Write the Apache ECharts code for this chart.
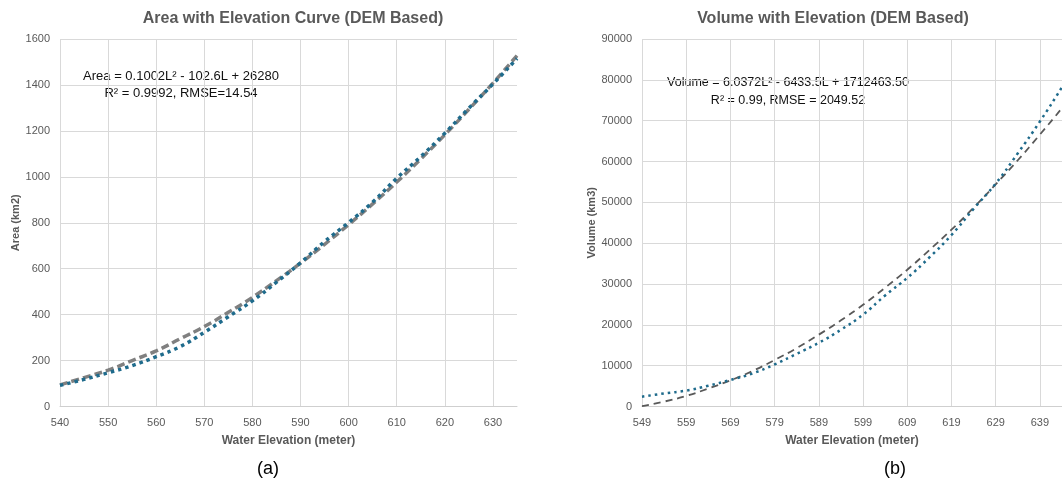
<!DOCTYPE html>
<html>
<head>
<meta charset="utf-8">
<script src="https://cdn.jsdelivr.net/npm/echarts@6/dist/echarts.min.js"></script>
<style>
html,body{margin:0;padding:0;background:#fff;}
#c{width:1062px;height:481px;}
</style>
</head>
<body>
<div id="c"></div>
<script>
// ---- Data ----
const areaElev = [540,545,550,555,560,565,570,575,580,585,590,595,600,605,610,615,620,625,630,635];
const areaObserved = [92,118,147,178,217,261,323,391,460,541,626,718,801,890,994,1088,1190,1299,1404,1515];
const areaFitted = [94,126,158,200,242,295,348,410,475,548,624,706,792,882,977,1078,1183,1294,1408,1528];
const areaXTicks = [540,550,560,570,580,590,600,610,620,630];

const volElev = [549,554,559,564,569,574,579,584,589,594,599,604,609,614,619,624,629,634,639,644,649];
const volObserved = [2400,3200,3900,5100,6500,8100,10300,12900,15600,18800,22500,27200,31500,36500,42000,48400,54600,62000,69800,78200,87000];
const volFitted = [100,1200,2600,4400,6400,8700,11400,14300,17600,21100,24900,29100,33500,38300,43300,48700,54400,60300,66600,73100,80000];
const volXTicks = [549,559,569,579,589,599,609,619,629,639];

const volXOrigin = volXTicks[0];
const volXEnd = 644; // visible right edge of the cropped plot

const LABEL = '#595959';
const GRID = '#d9d9d9';
const FONT = '"Liberation Sans", Arial, sans-serif';
const BLUE = '#1f6b8c';

const chart = echarts.init(document.getElementById('c'), null, {renderer:'canvas'});

const axisCommonY = {
  type:'value',
  nameLocation:'middle',
  nameTextStyle:{color:LABEL,fontWeight:'bold',fontSize:11,fontFamily:FONT},
  axisLine:{show:false},
  axisTick:{show:false},
  axisLabel:{color:LABEL,fontSize:11,fontFamily:FONT,margin:10,formatter:v=>String(v)},
  splitLine:{show:true,lineStyle:{color:GRID,width:1}}
};
const axisCommonX = {
  type:'value',
  nameLocation:'middle',
  nameGap:28,
  nameTextStyle:{color:LABEL,fontWeight:'bold',fontSize:12,fontFamily:FONT},
  axisLine:{show:true,lineStyle:{color:'#cfcfcf',width:1}},
  axisTick:{show:false},
  splitLine:{show:true,showMaxLine:false,lineStyle:{color:GRID,width:1}}
};

const option = {
  animation:false,
  backgroundColor:'#fff',
  title:[
    {text:'Area with Elevation Curve (DEM Based)',left:288,top:6,textAlign:'center',
     textStyle:{color:LABEL,fontSize:16,fontWeight:'bold',fontFamily:FONT}},
    {text:'Volume with Elevation (DEM Based)',left:828,top:6,textAlign:'center',
     textStyle:{color:LABEL,fontSize:16,fontWeight:'bold',fontFamily:FONT}},
    {text:'(a)',left:263,top:455,textAlign:'center',
     textStyle:{color:'#000',fontSize:18,fontWeight:'normal',fontFamily:FONT}},
    {text:'(b)',left:890,top:455,textAlign:'center',
     textStyle:{color:'#000',fontSize:18,fontWeight:'normal',fontFamily:FONT}}
  ],
  grid:[
    {left:60,top:39,width:457,height:367.5,containLabel:false},
    {left:642,top:39,right:0,height:367.5,containLabel:false}
  ],
  xAxis:[
    Object.assign({},axisCommonX,{gridIndex:0,min:areaXTicks[0],max:635,interval:10,
      name:'Water Elevation (meter)',
      axisLabel:{color:LABEL,fontSize:11,fontFamily:FONT,margin:11,showMaxLabel:false,
        formatter:v=>areaXTicks.indexOf(v)>=0?String(v):''}}),
    Object.assign({},axisCommonX,{gridIndex:1,min:0,max:volXEnd-volXOrigin,interval:10,
      name:'Water Elevation (meter)',
      axisLabel:{color:LABEL,fontSize:11,fontFamily:FONT,margin:11,showMaxLabel:false,
        formatter:v=>volXTicks.indexOf(v+volXOrigin)>=0?String(v+volXOrigin):''}})
  ],
  yAxis:[
    Object.assign({},axisCommonY,{gridIndex:0,min:0,max:1600,interval:200,name:'Area (km2)',nameGap:39}),
    Object.assign({},axisCommonY,{gridIndex:1,min:0,max:90000,interval:10000,name:'Volume (km3)',nameGap:45})
  ],
  series:[
    {type:'line',xAxisIndex:0,yAxisIndex:0,smooth:true,symbol:'none',
     data:areaElev.map((x,i)=>[x,areaFitted[i]]),
     lineStyle:{color:'#808080',width:3.5,type:[8,4],cap:'butt'},z:2},
    {type:'line',xAxisIndex:0,yAxisIndex:0,smooth:true,symbol:'none',
     data:areaElev.map((x,i)=>[x,areaObserved[i]]),
     lineStyle:{color:BLUE,width:3.5,type:[3.5,4],cap:'butt'},z:3},
    {type:'line',xAxisIndex:1,yAxisIndex:1,smooth:true,symbol:'none',
     data:volElev.map((x,i)=>[x-volXOrigin,volFitted[i]]),
     lineStyle:{color:'#595959',width:1.8,type:[7,5],cap:'butt'},z:2},
    {type:'line',xAxisIndex:1,yAxisIndex:1,smooth:true,symbol:'none',
     data:volElev.map((x,i)=>[x-volXOrigin,volObserved[i]]),
     lineStyle:{color:BLUE,width:2.5,type:[2.5,4],cap:'butt'},z:3}
  ],
  graphic:[
    {type:'text',x:181,y:76,style:{text:'Area = 0.1002L² - 102.6L + 26280',fill:'#111',font:'13px '+FONT,textAlign:'center',textVerticalAlign:'middle'}},
    {type:'text',x:181,y:93,style:{text:'R² = 0.9992, RMSE=14.54',fill:'#111',font:'13px '+FONT,textAlign:'center',textVerticalAlign:'middle'}},
    {type:'text',x:788,y:83,style:{text:'Volume = 6.0372L² - 6433.5L + 1712463.50',fill:'#111',font:'12.5px '+FONT,textAlign:'center',textVerticalAlign:'middle'}},
    {type:'text',x:788,y:101,style:{text:'R² = 0.99, RMSE = 2049.52',fill:'#111',font:'12.5px '+FONT,textAlign:'center',textVerticalAlign:'middle'}}
  ]
};
chart.setOption(option);
</script>
</body>
</html>
